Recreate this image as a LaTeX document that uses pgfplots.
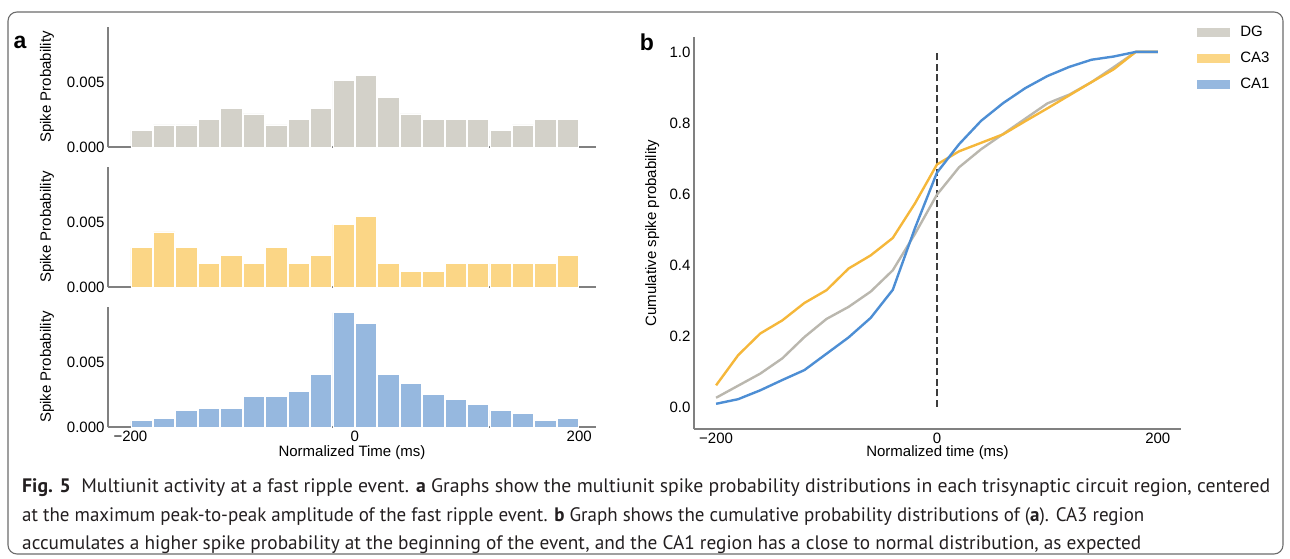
\documentclass[border=0pt]{standalone}
\usepackage{fontspec}
\setmainfont{Liberation Sans}
\newfontfamily\capfont{PT Sans}
\usepackage{graphicx}
\usepackage{pgfplots}
\usepackage{pgfplotstable}
\pgfplotsset{compat=1.18}

\definecolor{dgbar}{HTML}{D3D1C9}
\definecolor{cathreebar}{HTML}{FBD686}
\definecolor{caonebar}{HTML}{96B8DF}
\definecolor{dgline}{HTML}{BAB7AE}
\definecolor{cathreeline}{HTML}{F5B73A}
\definecolor{caoneline}{HTML}{4D8ED4}
\definecolor{axgray}{HTML}{808080}
\definecolor{dashc}{HTML}{3C3C3C}
\definecolor{captext}{HTML}{231F20}

\pgfplotstableread{
x dg ca3 ca1
-190 0.00128 0.00305 0.00048
-170 0.00171 0.00427 0.00064
-150 0.00171 0.00305 0.00130
-130 0.00214 0.00183 0.00146
-110 0.00299 0.00244 0.00146
-90  0.00256 0.00183 0.00237
-70  0.00171 0.00305 0.00237
-50  0.00214 0.00183 0.00279
-30  0.00299 0.00244 0.00404
-10  0.00513 0.00488 0.00886
10   0.00556 0.00549 0.00803
30   0.00385 0.00183 0.00404
50   0.00256 0.00122 0.00338
70   0.00214 0.00122 0.00255
90   0.00214 0.00183 0.00213
110  0.00214 0.00183 0.00173
130  0.00128 0.00183 0.00130
150  0.00171 0.00183 0.00104
170  0.00214 0.00183 0.00048
190  0.00214 0.00244 0.00064
}\histdata

\pgfplotstableread{
x dg ca3 ca1
-200 0.026 0.061 0.009
-180 0.060 0.146 0.022
-160 0.094 0.207 0.047
-140 0.137 0.244 0.076
-120 0.197 0.293 0.104
-100 0.248 0.329 0.150
-80  0.282 0.390 0.196
-60  0.325 0.427 0.251
-40  0.385 0.476 0.330
-20  0.487 0.573 0.503
0    0.598 0.683 0.660
20   0.675 0.720 0.740
40   0.726 0.744 0.806
60   0.769 0.768 0.856
80   0.812 0.805 0.898
100  0.855 0.841 0.932
120  0.880 0.878 0.958
140  0.915 0.915 0.978
160  0.957 0.951 0.987
180  1.000 1.000 1.000
200  1.000 1.000 1.000
}\cumdata

\pgfplotsset{
  base/.style={
    scale only axis, anchor=south west,
    axis lines*=left,
    axis line style={axgray, line width=2pt},
    major tick length=0pt,
    scaled y ticks=false, scaled x ticks=false,
    tick label style={font=\fontsize{15}{17}\selectfont, text=black},
    label style={font=\fontsize{15}{17}\selectfont},
  },
  hist/.style={
    base, width=488pt, height=120pt,
    xmin=-220, xmax=215, ymin=0, ymax=0.0093,
    ytick={0,0.005}, yticklabels={0.000,0.005},
    ylabel={Spike Probability},
    ylabel style={at={(axis description cs:-0.125,0.5)}, anchor=center},
  },
}

\begin{document}
\begin{tikzpicture}[x=1pt,y=1pt]
\useasboundingbox (0,0) rectangle (1290,558);
\draw[draw=gray!85!black, line width=1.1pt, rounded corners=9pt] (8,4) rectangle (1283,546);

\node[font=\bfseries\fontsize{23}{25}\selectfont] at (20,516) {a};
\node[font=\bfseries\fontsize{23}{25}\selectfont] at (647,516) {b};

% DG
\begin{axis}[hist, at={(108pt,411pt)}, xtick=\empty]
\addplot[ybar, bar width=19, fill=dgbar, draw=white, line width=0.8pt] table[x=x,y=dg] {\histdata};
\end{axis}
% CA3
\begin{axis}[hist, at={(108pt,271pt)}, xtick=\empty]
\addplot[ybar, bar width=19, fill=cathreebar, draw=white, line width=0.8pt] table[x=x,y=ca3] {\histdata};
\end{axis}
% CA1
\begin{axis}[hist, at={(108pt,131pt)}, xtick={-200,0,200}, xticklabels={−200,0,200},
  xlabel={Normalized Time (ms)},
  xlabel style={at={(axis description cs:0.5,-0.21)}, anchor=center}]
\addplot[ybar, bar width=19, fill=caonebar, draw=white, line width=0.8pt] table[x=x,y=ca1] {\histdata};
\end{axis}

% panel b
\begin{axis}[base, at={(694pt,129pt)}, width=487pt, height=392pt,
  xmin=-220, xmax=221, ymin=-0.062, ymax=1.042,
  ytick={0,0.2,0.4,0.6,0.8,1.0}, yticklabels={0.0,0.2,0.4,0.6,0.8,1.0},
  xtick={-200,0,200}, xticklabels={−200,0,200},
  xlabel={Normalized time (ms)},
  xlabel style={at={(axis description cs:0.5,-0.059)}, anchor=center},
  ylabel={Cumulative spike probability},
  ylabel style={at={(axis description cs:-0.086,0.5)}, anchor=center},
  legend cell align=left,
  legend image code/.code={\fill (0pt,-4.5pt) rectangle (33pt,4.5pt);},
  legend style={at={(axis description cs:1.033,1.03)}, anchor=north west,
    draw=none, fill=none, font=\fontsize{15}{17}\selectfont, row sep=12pt,
    column sep=9pt, inner sep=0pt, nodes={inner sep=1pt}},
]
\addlegendimage{fill=dgbar, draw=none}\addlegendentry{DG}
\addlegendimage{fill=cathreebar, draw=none}\addlegendentry{CA3}
\addlegendimage{fill=caonebar, draw=none}\addlegendentry{CA1}
\addplot[draw=dashc, line width=2pt, dash pattern=on 7pt off 3.5pt] coordinates {(0,0) (0,1.0)};
\addplot[dgline, line width=2.4pt, line join=round] table[x=x,y=dg] {\cumdata};
\addplot[cathreeline, line width=2.4pt, line join=round] table[x=x,y=ca3] {\cumdata};
\addplot[caoneline, line width=2.4pt, line join=round] table[x=x,y=ca1] {\cumdata};
\end{axis}

% caption
\begin{scope}[every node/.style={anchor=base west, inner sep=0pt, text=captext, font=\capfont\fontsize{19.5}{22}\selectfont}]
\node at (22,66) {\resizebox{1248pt}{\height}{\textbf{Fig. 5}\ \ Multiunit activity at a fast ripple event. \textbf{a} Graphs show the multiunit spike probability distributions in each trisynaptic circuit region, centered}};
\node at (22,37) {\resizebox{1122pt}{\height}{at the maximum peak-to-peak amplitude of the fast ripple event. \textbf{b} Graph shows the cumulative probability distributions of (\textbf{a}). CA3 region}};
\node at (22,8.5) {\resizebox{1119pt}{\height}{accumulates a higher spike probability at the beginning of the event, and the CA1 region has a close to normal distribution, as expected}};
\end{scope}
\end{tikzpicture}
\end{document}
